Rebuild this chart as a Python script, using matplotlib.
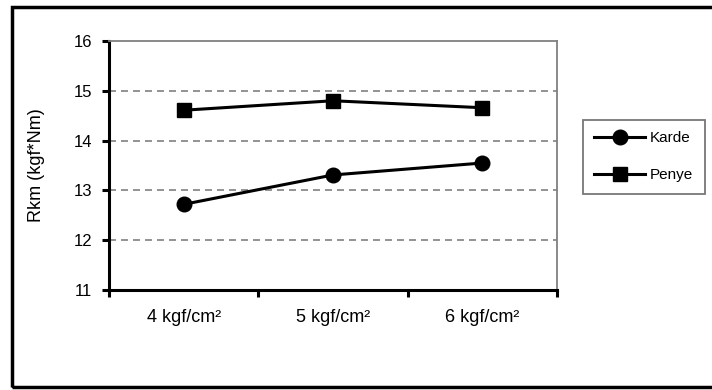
import matplotlib
matplotlib.use("Agg")
import matplotlib.pyplot as plt
from matplotlib.patches import Rectangle

plt.rcParams['font.family'] = ['Liberation Sans', 'DejaVu Sans']

categories = ["4 kgf/cm²", "5 kgf/cm²", "6 kgf/cm²"]
karde = [12.72, 13.31, 13.55]
penye = [14.61, 14.80, 14.66]
yticks = [11, 12, 13, 14, 15, 16]

fig = plt.figure(figsize=(7.12, 3.9), dpi=100)
ax = fig.add_axes([109/712, 1-290/390, (557-109)/712, (290-41)/390])

x = list(range(1, len(categories)+1))
ax.plot(x, karde, color='black', lw=2.2, marker='o', ms=10.5, label='Karde', zorder=3)
ax.plot(x, penye, color='black', lw=2.2, marker='s', ms=10.5, label='Penye', zorder=3)

ax.set_xlim(0.5, 3.5)
ax.set_ylim(11, 16)
ax.set_yticks(yticks)
ax.set_yticklabels([str(v) for v in yticks], fontsize=12)
ax.set_xticks(x)
ax.set_xticklabels(categories, fontsize=13)
ax.tick_params(axis='x', which='major', length=0, pad=14)
ax.set_xticks([0.5, 1.5, 2.5, 3.5], minor=True)
ax.tick_params(axis='x', which='minor', length=5, width=2.2, direction='out')
ax.tick_params(axis='y', length=5, width=2.2, direction='out', pad=7)

for v in [12, 13, 14, 15]:
    ax.axhline(v, color='#808080', lw=1.2, ls=(0, (4.2, 3)), zorder=1)

for s in ['left', 'bottom']:
    ax.spines[s].set_linewidth(2.2)
    ax.spines[s].set_color('black')
for s in ['top', 'right']:
    ax.spines[s].set_linewidth(1.3)
    ax.spines[s].set_color('#808080')

ax.set_ylabel('Rkm (kgf*Nm)', fontsize=13)
ax.yaxis.set_label_coords(-0.143, 0.5)

leg = fig.legend(loc='upper left', bbox_to_anchor=(583/712, 1-120/390),
                 frameon=True, fancybox=False, edgecolor='#555555',
                 fontsize=11, handlelength=3.3, borderpad=0.75, labelspacing=1.5,
                 handletextpad=0.33, borderaxespad=0)
leg.get_frame().set_linewidth(1.3)

fig.patches.append(Rectangle((12/712, 3/390), 1.0, (387-7)/390, transform=fig.transFigure,
                             fill=False, edgecolor='black', lw=2.5))

fig.savefig('out.png', dpi=100)
